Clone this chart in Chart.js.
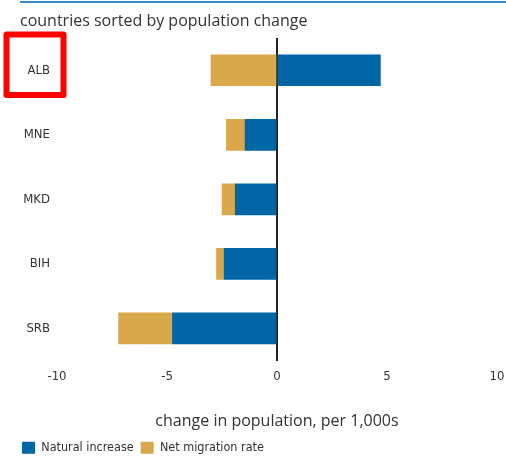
<!DOCTYPE html>
<html>
<head>
<meta charset="utf-8">
<script src="https://cdn.jsdelivr.net/npm/chart.js@4"></script>
<style>
  html, body { margin: 0; padding: 0; background: #fff; }
  #wrap { width: 506px; height: 456px; }
</style>
</head>
<body>
<div id="wrap"><canvas id="popChart" width="506" height="456"></canvas></div>
<script>
// données
const countries = ['ALB', 'MNE', 'MKD', 'BIH', 'SRB'];
const naturalIncrease = [4.7, -1.45, -1.9, -2.4, -4.75];
const netMigration = [-3.0, -0.85, -0.6, -0.35, -2.45];
const xTicks = [-10, -5, 0, 5, 10];

const BLUE = '#0066a5';
const GOLD = '#d9a84a';
const TEXT = '#333333';
const CONDENSED = "'DejaVu Sans Condensed', 'Liberation Sans Narrow', sans-serif";

// ligne bleue en haut, titre, cadre rouge autour de ALB
const decorations = {
    id: 'decorations',
    afterDraw(chart) {
        const ctx = chart.ctx;
        ctx.save();
        ctx.strokeStyle = '#3a8cc6';
        ctx.lineWidth = 2;
        ctx.beginPath();
        ctx.moveTo(20, 2);
        ctx.lineTo(506, 2);
        ctx.stroke();

        ctx.fillStyle = TEXT;
        ctx.font = "16px 'Open Sans'";
        ctx.textBaseline = 'middle';
        ctx.textAlign = 'left';
        ctx.fillText('countries sorted by population change', 20, 21);

        ctx.strokeStyle = '#ff0000';
        ctx.lineWidth = 6;
        ctx.lineJoin = 'round';
        ctx.strokeRect(6.5, 34.5, 57, 60.5);
        ctx.restore();
    }
};

new Chart(document.getElementById('popChart').getContext('2d'), {
    type: 'bar',
    data: {
        labels: countries,
        datasets: [{
            label: 'Natural increase',
            data: naturalIncrease,
            backgroundColor: BLUE,
            barThickness: 31
        }, {
            label: 'Net migration rate',
            data: netMigration,
            backgroundColor: GOLD,
            barThickness: 31
        }]
    },
    options: {
        indexAxis: 'y',
        responsive: false,
        animation: false,
        layout: { padding: { left: 15, right: 0, top: 38, bottom: -8 } },
        scales: {
            x: {
                stacked: true,
                min: -10,
                max: 10,
                afterBuildTicks: (scale) => { scale.ticks = xTicks.map(v => ({ value: v })); },
                afterFit: (scale) => { scale.paddingRight = 9; scale.paddingLeft = 0; },
                grid: {
                    drawTicks: false,
                    color: (c) => c.tick && c.tick.value === 0 ? '#222' : 'rgba(0,0,0,0)',
                    lineWidth: (c) => c.tick && c.tick.value === 0 ? 2 : 0
                },
                border: { display: false },
                ticks: {
                    color: TEXT,
                    padding: 8,
                    font: { family: CONDENSED, size: 13 }
                },
                title: {
                    display: true,
                    text: 'change in population, per 1,000s',
                    color: TEXT,
                    padding: { top: 20, bottom: 3 },
                    font: { family: 'Open Sans', size: 16 }
                }
            },
            y: {
                stacked: true,
                grid: { display: false, drawTicks: false },
                border: { display: false },
                ticks: {
                    color: TEXT,
                    padding: 7,
                    font: { family: CONDENSED, size: 13 }
                },
                afterFit: (scale) => { scale.width = 42; }
            }
        },
        plugins: {
            legend: {
                position: 'bottom',
                align: 'start',
                labels: {
                    boxWidth: 13,
                    boxHeight: 12,
                    padding: 7,
                    color: TEXT,
                    font: { family: CONDENSED, size: 12.5 }
                }
            },
            tooltip: { enabled: false }
        }
    },
    plugins: [decorations]
});
</script>
</body>
</html>
